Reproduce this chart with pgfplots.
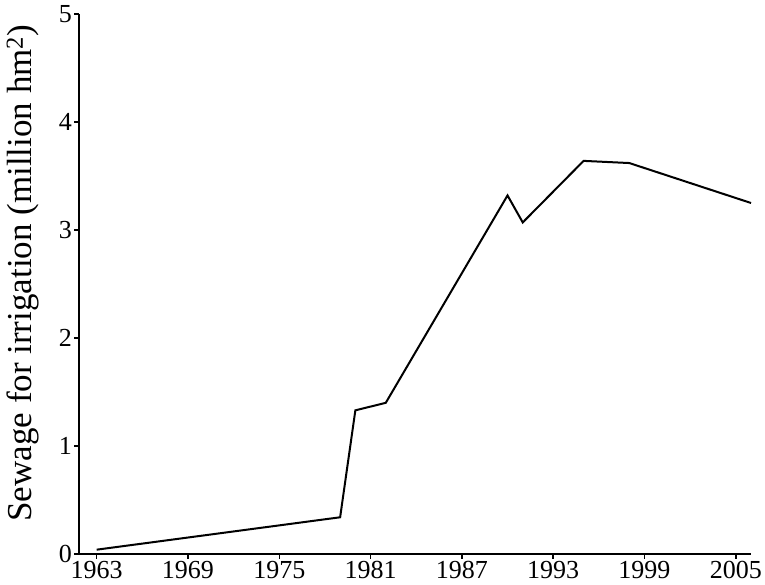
\documentclass[border=0pt]{standalone}
\usepackage{pgfplots}
\pgfplotsset{compat=1.18}
\usepackage{fontspec}
\setmainfont{Liberation Serif}
\begin{document}
\begin{tikzpicture}
\begin{axis}[
  name=ax,
  scale only axis,
  width=672pt, height=540pt,
  xmin=1961.84, xmax=2006, ymin=0, ymax=5,
  axis x line*=bottom, axis y line*=left,
  axis line style={line width=2pt},
  xtick={1963,1969,1975,1981,1987,1993,1999,2005},
  ytick={0,1,2,3,4,5},
  tick align=outside,
  major tick length=5pt,
  tick style={line width=1.5pt, black},
  /pgf/number format/1000 sep={},
  /pgf/number format/assume math mode=true,
  ticklabel style={font=\fontsize{26}{31}\selectfont, inner sep=0pt},
  xticklabel style={anchor=north, yshift=-2.5pt},
  yticklabel style={anchor=east, xshift=-2pt},
  ylabel={Sewage for irrigation (million hm\textsuperscript{2})},
  ylabel style={font=\fontsize{35}{40}\selectfont, at={(axis description cs:-0.0833,0.52)}, anchor=center, rotate=0},
  clip=false,
]
\addplot[black, line width=2pt] coordinates {
(1963,0.04) (1979,0.34) (1980,1.33) (1982,1.40) (1990,3.32) (1991,3.07) (1995,3.64) (1998,3.62) (2006,3.25)
};
\end{axis}
\pgfresetboundingbox
\path (ax.south west) ++(-79pt,-31pt) rectangle ([shift={(14pt,14pt)}]ax.north east);
\end{tikzpicture}
\end{document}
